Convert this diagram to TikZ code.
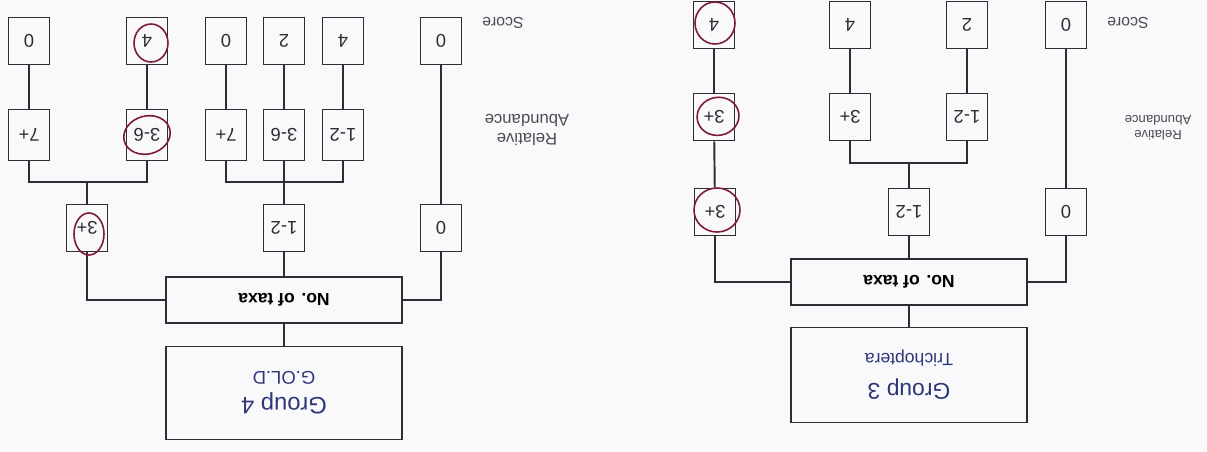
\documentclass[tikz,border=0pt]{standalone}
\usepackage{fontspec}
\setmainfont{Liberation Sans}
\usepackage{tikz}
\usetikzlibrary{positioning}
\definecolor{inkgrey}{RGB}{45,45,50}
\definecolor{printblue}{RGB}{45,55,120}
\definecolor{penred}{RGB}{125,25,60}
\definecolor{paper}{RGB}{249,249,251}
\tikzset{
  numbox/.style={draw=inkgrey, line width=1.1pt, minimum width=0.82cm, minimum height=0.94cm,
    inner sep=0pt, rotate=180, text=inkgrey, font=\fontsize{10.5}{12}\selectfont},
  tallbox/.style={numbox, minimum height=1.02cm},
  taxabox/.style={draw=inkgrey, line width=1.1pt, minimum width=4.72cm, minimum height=0.93cm,
    inner sep=0pt, rotate=180, font=\bfseries\fontsize{10}{12}\selectfont},
  groupbox/.style={draw=inkgrey, line width=1.1pt, minimum width=4.72cm, minimum height=1.86cm,
    inner sep=0pt, rotate=180, align=center, text=printblue, font=\fontsize{13.5}{15}\selectfont},
  link/.style={draw=inkgrey, line width=1.1pt},
  circled/.style={draw=penred, line width=0.9pt},
  sidelabel/.style={rotate=180, align=center, text=inkgrey!85}
}

\begin{document}
\begin{tikzpicture}[x=0.02cm, y=-0.02cm]
  \fill[paper] (0,0) rectangle (1207,451);
  \useasboundingbox (0,0) rectangle (1207,451);

  % group 4 (left)
  \foreach \x/\l/\n in {29/0/a, 147/4/b, 226/0/c, 284/2/d, 343/4/e, 441/0/f}
    \node[numbox] (s4\n) at (\x,41) {\l};
  \foreach \x/\l/\n in {29/7+/a, 147/3-6/b, 226/7+/c, 284/3-6/d, 343/1-2/e}
    \node[tallbox] (a4\n) at (\x,135) {\l};
  \node[numbox] (f4a) at (87,228) {3+};
  \node[numbox] (f4b) at (284,228) {1-2};
  \node[numbox] (f4c) at (441,228) {0};
  \node[taxabox] (t4) at (284,300) {No. of taxa};
  \node[groupbox] (g4) at (284,393) {Group 4\\[0pt]{\fontsize{10.5}{12}\selectfont G.OL.D}};
  \coordinate (j4a) at (87,182);
  \coordinate (j4b) at (284,182);

  \foreach \n in {a,b,c,d,e}
    \draw[link] (s4\n) -- (a4\n);
  \draw[link] (a4a) |- (j4a) -| (a4b);
  \draw[link] (j4a) -- (f4a);
  \draw[link] (a4c) |- (j4b) -| (a4e);
  \draw[link] (a4d) -- (f4b);
  \draw[link] (s4f) -- (f4c);
  \draw[link] (f4a) |- (t4);
  \draw[link] (f4c) |- (t4);
  \draw[link] (f4b) -- (t4);
  \draw[link] (t4) -- (g4);

  \node[sidelabel, font=\fontsize{9}{10}\selectfont] (sc4) at (503,23) {Score};
  \node[sidelabel, font=\fontsize{9.5}{10.5}\selectfont] (ra4) at (527,130) {Relative\\Abundance};

  % group 3 (right)
  \foreach \x/\l/\n in {714/4/a, 850/4/b, 967/2/c, 1066/0/d}
    \node[numbox] (s3\n) at (\x,25) {\l};
  \foreach \x/\l/\n in {714/3+/a, 850/3+/b, 967/1-2/c}
    \node[numbox] (a3\n) at (\x,117) {\l};
  \node[numbox] (f3a) at (715,212) {3+};
  \node[numbox] (f3b) at (909,212) {1-2};
  \node[numbox] (f3c) at (1066,212) {0};
  \node[taxabox] (t3) at (909,282) {No. of taxa};
  \node[groupbox, minimum height=1.9cm, font=\fontsize{13}{15}\selectfont] (g3) at (909,375) {Group 3\\[2pt]{\fontsize{10}{12}\selectfont Trichoptera}};
  \coordinate (j3) at (909,163);

  \foreach \n in {a,b,c}
    \draw[link] (s3\n) -- (a3\n);
  \draw[link] (a3a) -- (f3a);
  \draw[link] (a3b) |- (j3) -| (a3c);
  \draw[link] (j3) -- (f3b);
  \draw[link] (s3d) -- (f3c);
  \draw[link] (f3a) |- (t3);
  \draw[link] (f3c) |- (t3);
  \draw[link] (f3b) -- (t3);
  \draw[link] (t3) -- (g3);

  \node[sidelabel, font=\fontsize{9}{10}\selectfont] (sc3) at (1128,23) {Score};
  \node[sidelabel, font=\fontsize{7.5}{8.5}\selectfont] (ra3) at (1158,128) {Relative\\Abundance};

  % pen marks
  \draw[circled] ([shift={(0.08cm,-0.04cm)}]s4b.center) ellipse [x radius=0.34cm, y radius=0.38cm];
  \draw[circled, rotate=15] (a4b.center) ellipse [x radius=0.47cm, y radius=0.38cm];
  \draw[circled] ([shift={(0.04cm,-0.12cm)}]f4a.center) ellipse [x radius=0.3cm, y radius=0.42cm];
  \draw[circled] ([shift={(0.02cm,0.04cm)}]s3a.center) ellipse [x radius=0.4cm, y radius=0.42cm];
  \draw[circled, rotate=10] ([shift={(0.08cm,0cm)}]a3a.center) ellipse [x radius=0.42cm, y radius=0.38cm];
  \draw[circled] ([shift={(0.04cm,0.04cm)}]f3a.center) ellipse [x radius=0.46cm, y radius=0.44cm];
\end{tikzpicture}
\end{document}
